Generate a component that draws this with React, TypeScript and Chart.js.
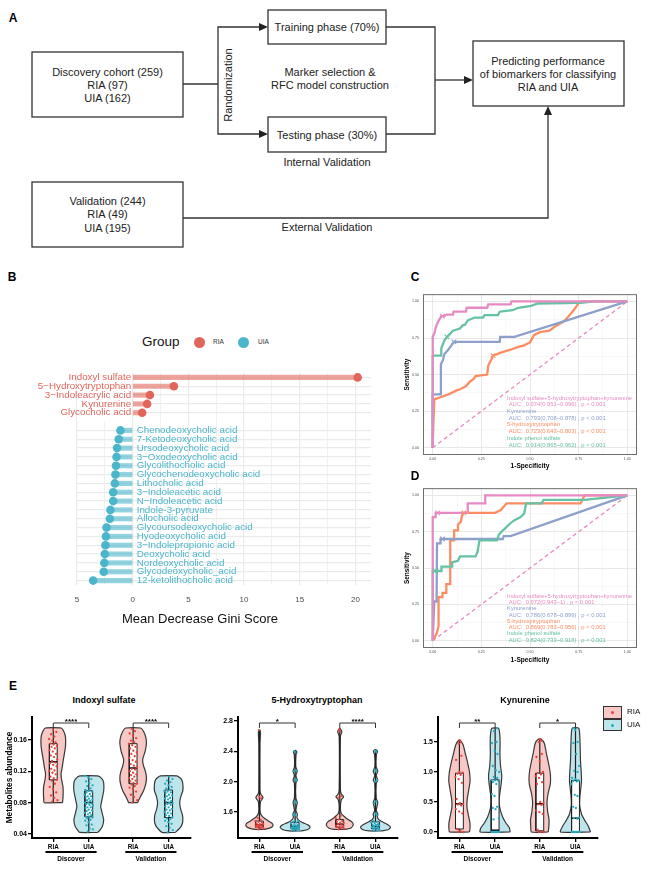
import React, { useEffect, useRef } from 'react';
import { Chart, registerables } from 'chart.js';

Chart.register(...registerables);

const FONT = "'Liberation Sans', Arial, Helvetica, sans-serif";
Chart.defaults.font.family = FONT;

// ================= Panel B: Mean Decrease Gini =================
const RIA_MARKERS = ['Indoxyl sulfate', '5\u2212Hydroxytryptophan', '3\u2212Indoleacrylic acid', 'Kynurenine', 'Glycocholic acid'];
const RIA_GINI = [20.2, 3.7, 1.55, 1.3, 0.85];
const UIA_MARKERS = [
  'Chenodeoxycholic acid', '7-Ketodeoxycholic acid', 'Ursodeoxycholic acid', '3\u2212Oxodeoxycholic acid',
  'Glycolithocholic acid', 'Glycochenodeoxycholic acid', 'Lithocholic acid', '3\u2212Indoleacetic acid',
  'N\u2212Indoleacetic acid', 'Indole-3-pyruvate', 'Allocholic acid', 'Glycoursodeoxycholic acid',
  'Hyodeoxycholic acid', '3\u2212Indolepropionic acid', 'Deoxycholic acid', 'Nordeoxycholic acid',
  'Glycodeoxycholic_acid', '12-ketolithocholic acid',
];
const UIA_GINI = [1.1, 1.25, 1.4, 1.45, 1.5, 1.55, 1.6, 1.75, 1.75, 2.0, 2.05, 2.35, 2.4, 2.45, 2.5, 2.55, 2.6, 3.55];
const GINI_TICKS = [-5, -2.5, 0, 2.5, 5, 7.5, 10, 12.5, 15, 17.5, 20];

// ================= Panels C / D: ROC =================
const ROC_TICKS = [0, 0.125, 0.25, 0.375, 0.5, 0.625, 0.75, 0.875, 1];
const ROC_NAMES = ['Indoxyl sulfate+5-hydroxytryptophan+kynurenine', 'Kynurenine', '5-hydroxytryptophan', 'Indole phenol sulfate'];

const C_COMBO = [[0, 0], [0, 0.76], [0.008, 0.78], [0.015, 0.82], [0.027, 0.86], [0.044, 0.9], [0.06, 0.9], [0.07, 0.91], [0.104, 0.91], [0.107, 0.93], [0.17, 0.93], [0.175, 0.957], [0.28, 0.957], [0.285, 0.98], [0.4, 0.98], [0.405, 1], [1, 1]];
const C_KYN = [[0, 0], [0, 0.365], [0.04, 0.365], [0.042, 0.57], [0.053, 0.6], [0.06, 0.64], [0.08, 0.67], [0.096, 0.7], [0.109, 0.724], [0.344, 0.724], [0.347, 0.758], [0.42, 0.758], [1, 1]];
const C_HTP = [[0, 0], [0.003, 0.15], [0.008, 0.33], [0.05, 0.35], [0.09, 0.37], [0.12, 0.39], [0.14, 0.4], [0.17, 0.42], [0.19, 0.45], [0.21, 0.47], [0.22, 0.49], [0.28, 0.5], [0.285, 0.56], [0.3, 0.6], [0.31, 0.63], [0.35, 0.65], [0.4, 0.67], [0.44, 0.69], [0.47, 0.7], [0.5, 0.72], [0.52, 0.77], [0.55, 0.79], [0.6, 0.8], [0.63, 0.83], [0.67, 0.86], [0.7, 0.9], [0.73, 0.95], [0.75, 0.99], [0.76, 1], [1, 1]];
const C_IPS = [[0, 0], [0, 0.63], [0.044, 0.63], [0.044, 0.68], [0.06, 0.735], [0.075, 0.76], [0.09, 0.78], [0.104, 0.8], [0.14, 0.815], [0.155, 0.838], [0.165, 0.84], [0.18, 0.87], [0.215, 0.89], [0.258, 0.89], [0.267, 0.906], [0.335, 0.906], [0.344, 0.93], [0.41, 0.94], [0.44, 0.957], [0.506, 0.97], [0.54, 0.986], [0.76, 0.99], [0.83, 1], [1, 1]];
const C_CUTS = [[0.05, 0.9], [0.109, 0.724], [0.31, 0.63], [0.073, 0.758]];
const C_AUC = [' AUC:  0.974(0.951~0.996) , p < 0.001', ' AUC:  0.793(0.708~0.878) , p < 0.001', ' AUC:  0.723(0.643~0.803) , p < 0.001', ' AUC:  0.914(0.865~0.962) , p < 0.001'];

const D_COMBO = [[0, 0], [0, 0.85], [0.015, 0.85], [0.015, 0.88], [0.18, 0.88], [0.18, 0.945], [0.27, 0.945], [0.27, 1], [1, 1]];
const D_KYN = [[0, 0], [0.008, 0.27], [0.02, 0.27], [0.022, 0.67], [0.04, 0.67], [0.04, 0.7], [0.36, 0.7], [0.365, 0.72], [0.4, 0.72], [1, 1]];
const D_HTP = [[0, 0], [0.02, 0.05], [0.03, 0.1], [0.03, 0.3], [0.05, 0.3], [0.05, 0.33], [0.07, 0.33], [0.07, 0.39], [0.09, 0.39], [0.09, 0.69], [0.11, 0.69], [0.11, 0.76], [0.13, 0.76], [0.13, 0.8], [0.145, 0.82], [0.15, 0.86], [0.16, 0.88], [0.32, 0.88], [0.35, 0.9], [0.37, 0.93], [0.38, 0.945], [0.76, 0.945], [0.78, 1], [1, 1]];
const D_IPS = [[0, 0], [0, 0.48], [0.045, 0.48], [0.045, 0.51], [0.1, 0.51], [0.1, 0.54], [0.13, 0.55], [0.14, 0.58], [0.22, 0.58], [0.23, 0.61], [0.24, 0.69], [0.33, 0.69], [0.34, 0.73], [0.36, 0.76], [0.37, 0.77], [0.4, 0.81], [0.42, 0.83], [0.45, 0.85], [0.47, 0.875], [0.48, 0.945], [0.56, 0.945], [0.57, 0.97], [0.78, 0.97], [1, 1]];
const D_CUTS = [[0.025, 0.88], [0.05, 0.7], [0.16, 0.88], [0.01, 0.48]];
const D_AUC = [' AUC:  0.972(0.943~1) , p < 0.001', ' AUC:  0.786(0.678~0.899) , p < 0.001', ' AUC:  0.869(0.783~0.956) , p < 0.001', ' AUC:  0.824(0.733~0.916) , p < 0.001'];

// ================= Panel E: violins =================
const E_GROUP_LABELS = ['RIA', 'UIA', 'RIA', 'UIA'];
const E_COHORTS = ['Discover', 'Validation'];

// Indoxyl sulfate
const IS_TICKS = [0.04, 0.08, 0.12, 0.16];
const IS_SIG = ['****', '****'];
const IS_RIA_D_SHAPE = [[0.08, 0.62], [0.084, 0.64], [0.09, 0.66], [0.1, 0.65], [0.11, 0.55], [0.117, 0.52], [0.125, 0.6], [0.134, 0.67], [0.143, 0.75], [0.152, 0.82], [0.163, 0.82], [0.17, 0.72], [0.175, 0.53]];
const IS_UIA_D_SHAPE = [[0.042, 0.6], [0.045, 0.75], [0.05, 0.92], [0.058, 1.0], [0.065, 0.92], [0.075, 0.8], [0.085, 0.9], [0.095, 1.0], [0.105, 1.0], [0.11, 0.9], [0.114, 0.6]];
const IS_RIA_V_SHAPE = [[0.08, 0.3], [0.082, 0.35], [0.088, 0.5], [0.095, 0.7], [0.104, 0.85], [0.112, 0.89], [0.12, 0.82], [0.128, 0.68], [0.135, 0.64], [0.145, 0.8], [0.155, 0.89], [0.162, 0.86], [0.17, 0.72], [0.175, 0.5]];
const IS_UIA_V_SHAPE = [[0.042, 0.45], [0.046, 0.68], [0.05, 0.85], [0.056, 0.95], [0.064, 0.93], [0.072, 0.8], [0.08, 0.74], [0.088, 0.82], [0.095, 0.95], [0.104, 0.95], [0.11, 0.85], [0.114, 0.55]];
const IS_RIA_D_BOX = [0.08, 0.109, 0.132, 0.155, 0.175];
const IS_UIA_D_BOX = [0.042, 0.062, 0.08, 0.095, 0.114];
const IS_RIA_V_BOX = [0.08, 0.104, 0.124, 0.155, 0.175];
const IS_UIA_V_BOX = [0.042, 0.061, 0.08, 0.096, 0.114];
const IS_RIA_D_PTS = [0.081, 0.083, 0.086, 0.089, 0.093, 0.097, 0.1, 0.104, 0.108, 0.109, 0.111, 0.113, 0.116, 0.118, 0.12, 0.121, 0.123, 0.126, 0.128, 0.13, 0.131, 0.133, 0.135, 0.138, 0.14, 0.142, 0.145, 0.147, 0.149, 0.151, 0.152, 0.154, 0.155, 0.157, 0.159, 0.161, 0.164, 0.167, 0.17, 0.173];
const IS_UIA_D_PTS = [0.043, 0.046, 0.047, 0.051, 0.052, 0.055, 0.057, 0.058, 0.06, 0.061, 0.062, 0.062, 0.064, 0.065, 0.067, 0.067, 0.069, 0.07, 0.071, 0.073, 0.074, 0.074, 0.076, 0.077, 0.078, 0.079, 0.08, 0.08, 0.082, 0.083, 0.084, 0.085, 0.087, 0.088, 0.088, 0.09, 0.091, 0.093, 0.094, 0.095, 0.096, 0.098, 0.101, 0.102, 0.105, 0.107, 0.11, 0.112, 0.114];
const IS_RIA_V_PTS = [0.08, 0.083, 0.087, 0.09, 0.094, 0.097, 0.099, 0.101, 0.103, 0.104, 0.105, 0.107, 0.108, 0.11, 0.111, 0.113, 0.115, 0.116, 0.118, 0.12, 0.122, 0.123, 0.125, 0.127, 0.129, 0.132, 0.134, 0.137, 0.139, 0.142, 0.144, 0.146, 0.149, 0.151, 0.153, 0.155, 0.157, 0.159, 0.162, 0.165, 0.168, 0.171, 0.174];
const IS_UIA_V_PTS = [0.042, 0.045, 0.048, 0.05, 0.053, 0.055, 0.057, 0.059, 0.06, 0.061, 0.063, 0.064, 0.066, 0.067, 0.068, 0.07, 0.071, 0.072, 0.074, 0.075, 0.077, 0.078, 0.079, 0.08, 0.081, 0.082, 0.084, 0.085, 0.086, 0.088, 0.089, 0.09, 0.092, 0.093, 0.094, 0.095, 0.096, 0.098, 0.1, 0.102, 0.104, 0.106, 0.108, 0.11, 0.113];

// 5-Hydroxytryptophan
const HTP_TICKS = [1.6, 2.0, 2.4, 2.8];
const HTP_SIG = ['*', '****'];
const HTP_RIA_D_SHAPE = [[1.37, 0.3], [1.39, 0.72], [1.42, 0.9], [1.45, 0.85], [1.48, 0.6], [1.51, 0.38], [1.54, 0.2], [1.58, 0.07], [1.65, 0.04], [1.74, 0.08], [1.79, 0.24], [1.84, 0.08], [1.9, 0.04], [2.5, 0.04], [2.64, 0.07], [2.68, 0.03]];
const HTP_UIA_D_SHAPE = [[1.35, 0.4], [1.37, 0.85], [1.4, 1.0], [1.43, 0.85], [1.46, 0.5], [1.49, 0.25], [1.53, 0.12], [1.57, 0.15], [1.62, 0.05], [1.73, 0.14], [1.78, 0.05], [1.98, 0.05], [2.02, 0.14], [2.08, 0.05], [2.14, 0.14], [2.2, 0.04], [2.36, 0.06], [2.39, 0.12], [2.41, 0.04]];
const HTP_RIA_V_SHAPE = [[1.37, 0.35], [1.39, 0.75], [1.43, 0.9], [1.47, 0.8], [1.5, 0.55], [1.54, 0.3], [1.58, 0.1], [1.65, 0.04], [1.76, 0.1], [1.8, 0.26], [1.84, 0.1], [1.9, 0.04], [2.6, 0.04], [2.66, 0.14], [2.7, 0.03]];
const HTP_UIA_V_SHAPE = [[1.35, 0.4], [1.37, 0.88], [1.4, 1.0], [1.43, 0.85], [1.47, 0.45], [1.5, 0.22], [1.54, 0.12], [1.57, 0.16], [1.62, 0.05], [1.73, 0.15], [1.78, 0.05], [1.98, 0.05], [2.02, 0.15], [2.08, 0.05], [2.14, 0.15], [2.2, 0.04], [2.36, 0.06], [2.4, 0.14], [2.42, 0.04]];
const HTP_RIA_D_BOX = [1.37, 1.4, 1.43, 1.48, 2.68];
const HTP_UIA_D_BOX = [1.35, 1.38, 1.41, 1.46, 2.4];
const HTP_RIA_V_BOX = [1.37, 1.4, 1.44, 1.5, 2.69];
const HTP_UIA_V_BOX = [1.35, 1.38, 1.41, 1.47, 2.41];
const HTP_RIA_D_PTS = [1.37, 1.38, 1.39, 1.4, 1.4, 1.41, 1.42, 1.42, 1.43, 1.44, 1.44, 1.45, 1.46, 1.47, 1.48, 1.5, 1.52, 1.78, 1.8, 2.68];
const HTP_UIA_D_PTS = [1.35, 1.36, 1.37, 1.37, 1.38, 1.39, 1.39, 1.4, 1.4, 1.41, 1.42, 1.42, 1.43, 1.44, 1.45, 1.46, 1.47, 1.48, 1.56, 1.57, 1.73, 1.74, 2.01, 2.03, 2.14, 2.15, 2.39, 2.4];
const HTP_RIA_V_PTS = [1.37, 1.38, 1.39, 1.4, 1.41, 1.41, 1.42, 1.43, 1.44, 1.45, 1.46, 1.47, 1.48, 1.5, 1.52, 1.55, 1.79, 1.81, 2.67, 2.69];
const HTP_UIA_V_PTS = [1.35, 1.36, 1.37, 1.38, 1.38, 1.39, 1.4, 1.4, 1.41, 1.42, 1.43, 1.43, 1.44, 1.45, 1.46, 1.47, 1.48, 1.56, 1.58, 1.72, 1.74, 2.0, 2.02, 2.14, 2.16, 2.39, 2.41];

// Kynurenine
const KYN_TICKS = [0, 0.5, 1.0, 1.5];
const KYN_SIG = ['**', '*'];
const KYN_RIA_D_SHAPE = [[0, 0.66], [0.05, 0.7], [0.15, 0.7], [0.3, 0.58], [0.42, 0.5], [0.55, 0.52], [0.7, 0.62], [0.85, 0.71], [1.0, 0.67], [1.15, 0.55], [1.3, 0.4], [1.45, 0.25], [1.53, 0.05]];
const KYN_UIA_D_SHAPE = [[0, 1.0], [0.07, 0.95], [0.15, 0.72], [0.25, 0.5], [0.38, 0.33], [0.5, 0.26], [0.62, 0.3], [0.8, 0.4], [0.95, 0.44], [1.1, 0.36], [1.3, 0.32], [1.5, 0.33], [1.65, 0.3], [1.73, 0.22]];
const KYN_RIA_V_SHAPE = [[0, 0.56], [0.08, 0.6], [0.2, 0.62], [0.35, 0.52], [0.5, 0.48], [0.65, 0.56], [0.8, 0.7], [0.95, 0.71], [1.1, 0.62], [1.3, 0.45], [1.48, 0.3], [1.55, 0.08]];
const KYN_UIA_V_SHAPE = [[0, 1.0], [0.1, 0.85], [0.2, 0.6], [0.3, 0.4], [0.45, 0.28], [0.6, 0.3], [0.85, 0.4], [1.0, 0.38], [1.2, 0.33], [1.5, 0.3], [1.73, 0.22]];
const KYN_RIA_D_BOX = [0, 0.05, 0.47, 0.98, 1.53];
const KYN_UIA_D_BOX = [0, 0, 0.03, 0.87, 1.73];
const KYN_RIA_V_BOX = [0, 0.02, 0.47, 0.98, 1.55];
const KYN_UIA_V_BOX = [0, 0, 0.23, 0.86, 1.73];
const KYN_RIA_D_PTS = [0, 0, 0.02, 0.05, 0.31, 0.34, 0.38, 0.44, 0.46, 0.47, 0.48, 0.55, 0.82, 0.88, 0.92, 0.95, 0.97, 0.99, 1.0, 1.2, 1.27, 1.47, 1.5, 1.53];
const KYN_UIA_D_PTS = [0, 0, 0, 0, 0, 0, 0, 0, 0.21, 0.23, 0.38, 0.4, 0.42, 0.6, 0.63, 0.8, 0.83, 0.85, 0.86, 0.87, 0.9, 0.92, 1.0, 1.03, 1.1, 1.3, 1.35, 1.48, 1.5, 1.68, 1.73];
const KYN_RIA_V_PTS = [0, 0, 0, 0.04, 0.3, 0.33, 0.36, 0.45, 0.46, 0.48, 0.5, 0.8, 0.83, 0.9, 0.93, 0.96, 0.98, 1.0, 1.18, 1.25, 1.3, 1.5, 1.52, 1.55];
const KYN_UIA_V_PTS = [0, 0, 0, 0, 0, 0, 0, 0.22, 0.23, 0.24, 0.4, 0.42, 0.6, 0.62, 0.8, 0.84, 0.85, 0.86, 0.88, 0.9, 1.0, 1.02, 1.1, 1.3, 1.48, 1.5, 1.7, 1.73];

// ================= styles =================
const B_RED = '#E0665B';
const B_RED_SEG = 'rgba(226,110,98,0.62)';
const B_TEAL = '#4BB6CB';
const B_TEAL_SEG = 'rgba(75,182,203,0.6)';
const SET2 = ['#E78AC3', '#8DA0CB', '#FC8D62', '#66C2A5'];
const RIA_FILL = '#F7C8C4';
const UIA_FILL = '#BEE5EB';
const RIA_DOT = '#E8423B';
const UIA_DOT = '#22AAC2';
const GROUP_POS = [1, 2, 3.25, 4.25];
const VIOLIN_HW = 0.42;
const BOX_HW = 0.11;

// ================= chart builders =================
function lollipopConfig(): any {
  const labels = [...RIA_MARKERS, '', ...UIA_MARKERS];
  const nR = RIA_MARKERS.length;
  const values = [...RIA_GINI, null, ...UIA_GINI.map((v) => -v)];
  const dotColors = labels.map((_, i) => (i < nR ? B_RED : B_TEAL));
  const segColors = labels.map((_, i) => (i < nR ? B_RED_SEG : B_TEAL_SEG));
  const plugin = {
    id: 'lollipopLabels',
    beforeDatasetsDraw(chart: any) {
      const { ctx, chartArea, scales } = chart;
      const x0 = scales.x.getPixelForValue(0);
      const yGap = scales.y.getPixelForValue(nR);
      ctx.save();
      ctx.fillStyle = '#fff';
      ctx.fillRect(chartArea.left, chartArea.top, x0 - 0.6 - chartArea.left, yGap - chartArea.top);
      ctx.restore();
    },
    afterDatasetsDraw(chart: any) {
      const { ctx, scales } = chart;
      const x0 = scales.x.getPixelForValue(0);
      ctx.save();
      ctx.font = `9.8px ${FONT}`;
      ctx.textBaseline = 'middle';
      labels.forEach((name, i) => {
        if (!name) return;
        const y = scales.y.getPixelForValue(i);
        if (i < nR) {
          ctx.textAlign = 'right';
          ctx.fillStyle = B_RED;
          ctx.fillText(name, x0 - 1.5, y);
        } else {
          ctx.textAlign = 'left';
          ctx.fillStyle = B_TEAL;
          ctx.fillText(name, x0 + 4, y);
        }
      });
      ctx.restore();
    },
  };
  return {
    type: 'bar',
    data: {
      labels,
      datasets: [
        { type: 'line', indexAxis: 'y', data: values, showLine: false, pointRadius: 4.3, pointBackgroundColor: dotColors, pointBorderWidth: 0, order: 0 },
        { type: 'bar', data: values.map((v) => (v == null ? null : [0, v])), backgroundColor: segColors, barThickness: 4.5, order: 1 },
      ],
    },
    options: {
      indexAxis: 'y',
      responsive: false,
      animation: false,
      events: [],
      layout: { padding: { top: 13, right: 9, left: 0, bottom: 0 } },
      plugins: { legend: { display: false }, tooltip: { enabled: false } },
      scales: {
        x: {
          type: 'linear', min: -5, max: 21.4,
          afterBuildTicks: (s: any) => { s.ticks = GINI_TICKS.map((v) => ({ value: v })); },
          ticks: { callback: (v: any) => (Number(v) % 5 === 0 ? String(Math.abs(Number(v))) : ''), font: { size: 8 }, color: '#4D4D4D', padding: 9.6, autoSkip: false, maxRotation: 0 },
          grid: { color: '#EBEBEB', lineWidth: (c: any) => (c.tick && c.tick.value % 5 === 0 ? 1.2 : 0.7), drawTicks: false },
          border: { display: false },
          afterFit: (s: any) => { s.height = 47; },
        },
        y: {
          type: 'category', offset: true,
          ticks: { display: false },
          grid: { offset: false, color: (c: any) => (labels[c.index] === '' ? 'rgba(0,0,0,0)' : '#EBEBEB'), lineWidth: 1.2, drawTicks: false },
          border: { display: false },
          afterFit: (s: any) => { s.width = 77; },
        },
      },
    },
    plugins: [plugin],
  };
}

function rocConfig(curves: number[][][], cuts: number[][], auc: string[], textTop: number, textBottom: number, xAxisH: number): any {
  const drawOrder = [1, 3, 4, 2];
  const datasets: any[] = [
    { data: [{ x: 0, y: 0 }, { x: 1, y: 1 }], borderColor: SET2[0], borderWidth: 1.3, borderDash: [4, 3], pointRadius: 0, order: 9 },
  ];
  curves.forEach((pts, i) =>
    datasets.push({ data: pts.map(([x, y]) => ({ x, y })), borderColor: SET2[i], borderWidth: 2.3, pointRadius: 0, tension: 0, order: drawOrder[i] })
  );
  cuts.forEach(([x, y], i) =>
    datasets.push({ data: [{ x, y }], showLine: false, pointStyle: 'crossRot', pointRadius: 3.2, pointBorderColor: SET2[i], pointBorderWidth: 1.1, borderColor: SET2[i], order: 0 })
  );
  const lines: string[] = [];
  const lineColors: string[] = [];
  ROC_NAMES.forEach((n, i) => { lines.push(n, auc[i]); lineColors.push(SET2[i], SET2[i]); });
  const plugin = {
    id: 'rocDecor',
    afterDraw(chart: any) {
      const { ctx, chartArea: ca, scales } = chart;
      ctx.save();
      ctx.strokeStyle = '#6e6e6e';
      ctx.lineWidth = 1;
      ctx.strokeRect(ca.left + 0.5, ca.top + 0.5, ca.right - ca.left - 1, ca.bottom - ca.top - 1);
      const x0 = scales.x.getPixelForValue(0.382);
      const yT = scales.y.getPixelForValue(textTop);
      const yB = scales.y.getPixelForValue(textBottom);
      const step = (yB - yT) / (lines.length - 1);
      ctx.font = `5.8px ${FONT}`;
      ctx.textBaseline = 'middle';
      ctx.textAlign = 'left';
      lines.forEach((t, i) => { ctx.fillStyle = lineColors[i]; ctx.fillText(t, x0, yT + i * step); });
      ctx.restore();
    },
  };
  const grid = {
    color: (c: any) => (c.tick && c.tick.value % 0.25 === 0 ? '#E2E2E2' : '#F0F0F0'),
    lineWidth: (c: any) => (c.tick && c.tick.value % 0.25 === 0 ? 0.8 : 0.5),
    drawTicks: false,
  };
  const tickCb = (v: any) => (Number(v) % 0.25 === 0 ? Number(v).toFixed(2) : '');
  return {
    type: 'line',
    data: { datasets },
    options: {
      responsive: false, animation: false, events: [],
      layout: { padding: { top: 6, right: 8, left: 0, bottom: 0 } },
      plugins: { legend: { display: false }, tooltip: { enabled: false } },
      scales: {
        x: {
          type: 'linear', min: -0.05, max: 1.05,
          afterBuildTicks: (s: any) => { s.ticks = ROC_TICKS.map((v) => ({ value: v })); },
          ticks: { callback: tickCb, font: { size: 3.6 }, color: '#4D4D4D', padding: 1.6, autoSkip: false, maxRotation: 0 },
          grid, border: { display: false },
          title: { display: true, text: '1-Specificity', color: '#000', font: { size: 6.6, weight: 'bold' }, padding: { top: 0, bottom: 3 } },
          afterFit: (s: any) => { s.height = xAxisH; },
        },
        y: {
          type: 'linear', min: -0.05, max: 1.05,
          afterBuildTicks: (s: any) => { s.ticks = ROC_TICKS.map((v) => ({ value: v })); },
          ticks: { callback: tickCb, font: { size: 3.6 }, color: '#4D4D4D', padding: 4, autoSkip: false },
          grid, border: { display: false },
          title: { display: true, text: 'Sensitivity', color: '#000', font: { size: 6.4, weight: 'bold' }, padding: { top: 8.4, bottom: 0 } },
          afterFit: (s: any) => { s.width = 28; },
        },
      },
    },
    plugins: [plugin],
  };
}

function hwAt(shape: number[][], v: number): number {
  const s = [...shape].sort((a, b) => a[0] - b[0]);
  if (v <= s[0][0]) return s[0][1];
  for (let i = 1; i < s.length; i++) {
    if (v <= s[i][0]) {
      const t = (v - s[i - 1][0]) / (s[i][0] - s[i - 1][0] || 1);
      return s[i - 1][1] + t * (s[i][1] - s[i - 1][1]);
    }
  }
  return s[s.length - 1][1];
}

type Group = { shape: number[][]; box: number[]; pts: number[] };

function violinConfig(groups: Group[], yMin: number, yMax: number, ticks: number[], digits: number, sig: string[], yAxisW: number, rightPad: number, yTitle?: string): any {
  const datasets: any[] = [];
  groups.forEach((g, gi) => {
    const pos = GROUP_POS[gi];
    const ria = gi % 2 === 0;
    const shape = [...g.shape].sort((a, b) => a[0] - b[0]);
    const right = shape.map(([v, d]) => ({ x: pos + d * VIOLIN_HW, y: v }));
    const left = shape.slice().reverse().map(([v, d]) => ({ x: pos - d * VIOLIN_HW, y: v }));
    datasets.push({ data: [...right, ...left, right[0]], fill: 'shape', backgroundColor: ria ? RIA_FILL : UIA_FILL, borderColor: '#383838', borderWidth: 1.2, pointRadius: 0, tension: 0.2, order: 6 });
    const [mn, q1, md, q3, mx] = g.box;
    datasets.push({ data: [{ x: pos, y: mn }, { x: pos, y: q1 }], borderColor: '#222', borderWidth: 1.2, pointRadius: 0, order: 5 });
    datasets.push({ data: [{ x: pos, y: q3 }, { x: pos, y: mx }], borderColor: '#222', borderWidth: 1.2, pointRadius: 0, order: 5 });
    datasets.push({
      data: [{ x: pos - BOX_HW, y: q1 }, { x: pos + BOX_HW, y: q1 }, { x: pos + BOX_HW, y: q3 }, { x: pos - BOX_HW, y: q3 }, { x: pos - BOX_HW, y: q1 }],
      fill: 'shape', backgroundColor: '#ffffff', borderColor: '#222', borderWidth: 1, pointRadius: 0, tension: 0, order: 4,
    });
    datasets.push({ data: [{ x: pos - BOX_HW, y: md }, { x: pos + BOX_HW, y: md }], borderColor: '#111', borderWidth: 1.6, pointRadius: 0, order: 3 });
    datasets.push({
      data: g.pts.map((v, i) => {
        const j = ((i * 0.6180339 + 0.37) % 1) - 0.5;
        const amp = Math.min(0.12, 0.75 * hwAt(shape, v) * VIOLIN_HW);
        return { x: pos + 2 * j * amp, y: v };
      }),
      showLine: false, pointRadius: 1.15, pointBackgroundColor: ria ? RIA_DOT : UIA_DOT, pointBorderWidth: 0, order: 1,
    });
  });
  const plugin = {
    id: 'violinDecor',
    afterDraw(chart: any) {
      const { ctx, chartArea, scales } = chart;
      const x = scales.x;
      ctx.save();
      sig.forEach((label, k) => {
        const a = x.getPixelForValue(GROUP_POS[2 * k]);
        const b = x.getPixelForValue(GROUP_POS[2 * k + 1]);
        const yb = chartArea.top + 6;
        ctx.strokeStyle = '#333';
        ctx.lineWidth = 1;
        ctx.beginPath();
        ctx.moveTo(a, yb + 5);
        ctx.lineTo(a, yb);
        ctx.lineTo(b, yb);
        ctx.lineTo(b, yb + 5);
        ctx.stroke();
        ctx.fillStyle = '#000';
        ctx.font = `bold 8px ${FONT}`;
        ctx.textAlign = 'center';
        ctx.textBaseline = 'alphabetic';
        ctx.fillText(label, (a + b) / 2, yb + 0.5);
      });
      E_COHORTS.forEach((name, k) => {
        const a = x.getPixelForValue(GROUP_POS[2 * k] - 0.22);
        const b = x.getPixelForValue(GROUP_POS[2 * k + 1] + 0.22);
        const yl = chartArea.bottom + 14;
        ctx.strokeStyle = '#000';
        ctx.lineWidth = 2;
        ctx.beginPath();
        ctx.moveTo(a, yl);
        ctx.lineTo(b, yl);
        ctx.stroke();
        ctx.fillStyle = '#000';
        ctx.font = `bold 6.5px ${FONT}`;
        ctx.textAlign = 'center';
        ctx.textBaseline = 'middle';
        ctx.fillText(name, (a + b) / 2, yl + 7);
      });
      ctx.restore();
    },
  };
  const axisGrid = { drawOnChartArea: false, drawTicks: true, tickLength: 4, color: '#000', tickColor: '#000', lineWidth: 1.3, tickWidth: 1.3 };
  return {
    type: 'line',
    data: { datasets },
    options: {
      responsive: false, animation: false, events: [],
      layout: { padding: { top: 12, right: rightPad, left: 0, bottom: 0 } },
      plugins: { legend: { display: false }, tooltip: { enabled: false } },
      scales: {
        x: {
          type: 'linear', min: 0.4, max: 4.88,
          afterBuildTicks: (s: any) => { s.ticks = GROUP_POS.map((v) => ({ value: v })); },
          ticks: { callback: (_v: any, i: number) => E_GROUP_LABELS[i], font: { size: 6.3, weight: 'bold' }, color: '#000', padding: 1.2, autoSkip: false, maxRotation: 0 },
          grid: axisGrid,
          border: { display: true, color: '#000', width: 2 },
          afterFit: (s: any) => { s.height = 31; },
        },
        y: {
          type: 'linear', min: yMin, max: yMax,
          afterBuildTicks: (s: any) => { s.ticks = ticks.map((v) => ({ value: v })); },
          ticks: { callback: (v: any) => Number(v).toFixed(digits), font: { size: 7, weight: 'bold' }, color: '#000', padding: 1, autoSkip: false },
          grid: axisGrid,
          border: { display: true, color: '#000', width: 2 },
          title: yTitle
            ? { display: true, text: yTitle, color: '#000', font: { size: 8.3, weight: 'bold' }, padding: { top: 5, bottom: 0 } }
            : { display: false },
          afterFit: (s: any) => { s.width = yAxisW; },
        },
      },
    },
    plugins: [plugin],
  };
}

// ================= components =================
function ChartCanvas({ x, y, w, h, build }: { x: number; y: number; w: number; h: number; build: () => any }) {
  const ref = useRef<HTMLCanvasElement | null>(null);
  useEffect(() => {
    const chart = new Chart(ref.current as HTMLCanvasElement, build());
    return () => chart.destroy();
  }, []);
  return <canvas ref={ref} width={w} height={h} style={{ position: 'absolute', left: x, top: y, width: w, height: h }} />;
}

function Txt({ x, y, children, size = 11, bold = false, color = '#000', align = 'center' }: any) {
  const tx = align === 'center' ? '-50%' : align === 'right' ? '-100%' : '0';
  return (
    <div style={{ position: 'absolute', left: x, top: y, transform: `translate(${tx}, -50%)`, fontSize: size, fontWeight: bold ? 'bold' : 'normal', color, whiteSpace: 'nowrap', lineHeight: 1, fontFamily: FONT }}>
      {children}
    </div>
  );
}

function FlowChart() {
  const st = { stroke: '#333', strokeWidth: 1.3, fill: 'none' } as any;
  const tx = { fontFamily: FONT, fontSize: 11, fill: '#222', textAnchor: 'middle', dominantBaseline: 'central' } as any;
  return (
    <svg width={653} height={260} style={{ position: 'absolute', left: 0, top: 0 }}>
      <rect x={32} y={52} width={151} height={65} {...st} />
      <text x={107.5} y={72} {...tx}>Discovery cohort (259)</text>
      <text x={107.5} y={85} {...tx}>RIA (97)</text>
      <text x={107.5} y={98} {...tx}>UIA (162)</text>
      <rect x={32} y={182} width={151} height={65} {...st} />
      <text x={107.5} y={201} {...tx}>Validation (244)</text>
      <text x={107.5} y={214} {...tx}>RIA (49)</text>
      <text x={107.5} y={228} {...tx}>UIA (195)</text>
      <polyline points="183,84 218,84" {...st} />
      <polyline points="260,27 218,27 218,134 260,134" {...st} />
      <polygon points="259,23 268,27 259,31" fill="#222" />
      <polygon points="259,130 268,134 259,138" fill="#222" />
      <text transform="translate(228,85) rotate(-90)" {...tx}>Randomization</text>
      <rect x={268} y={10} width={118} height={34} {...st} />
      <text x={327} y={27} {...tx}>Training phase (70%)</text>
      <rect x={268} y={117} width={118} height={35} {...st} />
      <text x={327} y={134.5} {...tx}>Testing phase (30%)</text>
      <text x={330} y={72} {...tx}>Marker selection &amp;</text>
      <text x={330} y={85} {...tx}>RFC model construction</text>
      <text x={327} y={162} {...tx}>Internal Validation</text>
      <polyline points="386,27 435,27 435,134 386,134" {...st} />
      <polyline points="435,80 465,80" {...st} />
      <polygon points="464,76 473,80 464,84" fill="#222" />
      <rect x={473} y={41} width={151} height={65} {...st} />
      <text x={548} y={61} {...tx}>Predicting performance</text>
      <text x={548} y={74} {...tx}>of biomarkers for classifying</text>
      <text x={548} y={87} {...tx}>RIA and UIA</text>
      <polyline points="183,218 548,218 548,114" {...st} />
      <polygon points="544,115 548,106 552,115" fill="#222" />
      <text x={327} y={227} {...tx}>External Validation</text>
    </svg>
  );
}

export default function App() {
  const isGroups: Group[] = [
    { shape: IS_RIA_D_SHAPE, box: IS_RIA_D_BOX, pts: IS_RIA_D_PTS },
    { shape: IS_UIA_D_SHAPE, box: IS_UIA_D_BOX, pts: IS_UIA_D_PTS },
    { shape: IS_RIA_V_SHAPE, box: IS_RIA_V_BOX, pts: IS_RIA_V_PTS },
    { shape: IS_UIA_V_SHAPE, box: IS_UIA_V_BOX, pts: IS_UIA_V_PTS },
  ];
  const htpGroups: Group[] = [
    { shape: HTP_RIA_D_SHAPE, box: HTP_RIA_D_BOX, pts: HTP_RIA_D_PTS },
    { shape: HTP_UIA_D_SHAPE, box: HTP_UIA_D_BOX, pts: HTP_UIA_D_PTS },
    { shape: HTP_RIA_V_SHAPE, box: HTP_RIA_V_BOX, pts: HTP_RIA_V_PTS },
    { shape: HTP_UIA_V_SHAPE, box: HTP_UIA_V_BOX, pts: HTP_UIA_V_PTS },
  ];
  const kynGroups: Group[] = [
    { shape: KYN_RIA_D_SHAPE, box: KYN_RIA_D_BOX, pts: KYN_RIA_D_PTS },
    { shape: KYN_UIA_D_SHAPE, box: KYN_UIA_D_BOX, pts: KYN_UIA_D_PTS },
    { shape: KYN_RIA_V_SHAPE, box: KYN_RIA_V_BOX, pts: KYN_RIA_V_PTS },
    { shape: KYN_UIA_V_SHAPE, box: KYN_UIA_V_BOX, pts: KYN_UIA_V_PTS },
  ];
  return (
    <div style={{ position: 'absolute', left: 0, top: 0, width: 653, height: 869, background: '#fff', overflow: 'hidden', fontFamily: FONT }}>
      <Txt x={13} y={18} size={12} bold>A</Txt>
      <FlowChart />

      <Txt x={12} y={277} size={12} bold>B</Txt>
      <Txt x={142} y={342} size={13.5} align="left" color="#111">Group</Txt>
      <div style={{ position: 'absolute', left: 193.5, top: 336.5, width: 11, height: 11, borderRadius: '50%', background: B_RED }} />
      <Txt x={213} y={342} size={6.5} align="left" color="#333">RIA</Txt>
      <div style={{ position: 'absolute', left: 237.5, top: 336.5, width: 11, height: 11, borderRadius: '50%', background: B_TEAL }} />
      <Txt x={258} y={342} size={6.5} align="left" color="#333">UIA</Txt>
      <ChartCanvas x={0} y={360} w={380} h={272} build={lollipopConfig} />
      <Txt x={200} y={618} size={13} color="#111">Mean Decrease Gini Score</Txt>

      <Txt x={415} y={277} size={12} bold>C</Txt>
      <ChartCanvas x={395} y={288} w={250} h={185} build={() => rocConfig([C_COMBO, C_KYN, C_HTP, C_IPS], C_CUTS, C_AUC, 0.34, 0.018, 18)} />
      <Txt x={415} y={476} size={12} bold>D</Txt>
      <ChartCanvas x={395} y={482} w={250} h={185} build={() => rocConfig([D_COMBO, D_KYN, D_HTP, D_IPS], D_CUTS, D_AUC, 0.307, 0.005, 19)} />

      <Txt x={13} y={686} size={12} bold>E</Txt>
      <Txt x={104} y={700} size={9} bold>Indoxyl sulfate</Txt>
      <Txt x={317} y={700} size={9} bold>5-Hydroxytryptophan</Txt>
      <Txt x={525} y={700} size={9} bold>Kynurenine</Txt>
      <ChartCanvas x={0} y={705} w={200} h={164} build={() => violinConfig(isGroups, 0.0349, 0.189, IS_TICKS, 2, IS_SIG, 32, 9, 'Metabolites abundance')} />
      <ChartCanvas x={205} y={705} w={200} h={164} build={() => violinConfig(htpGroups, 1.257, 2.853, HTP_TICKS, 1, HTP_SIG, 33, 7)} />
      <ChartCanvas x={405} y={705} w={200} h={164} build={() => violinConfig(kynGroups, -0.1, 1.917, KYN_TICKS, 1, KYN_SIG, 33, 7)} />

      <div style={{ position: 'absolute', left: 603, top: 706, width: 19, height: 12.5, background: RIA_FILL, border: '1.3px solid #333', boxSizing: 'border-box' }}>
        <div style={{ position: 'absolute', left: 7, top: 4, width: 3, height: 3, borderRadius: '50%', background: RIA_DOT }} />
      </div>
      <div style={{ position: 'absolute', left: 603, top: 718.5, width: 19, height: 12.5, background: UIA_FILL, border: '1.3px solid #333', boxSizing: 'border-box' }}>
        <div style={{ position: 'absolute', left: 7, top: 4, width: 3, height: 3, borderRadius: '50%', background: UIA_DOT }} />
      </div>
      <Txt x={627} y={712} size={8} align="left" color="#111">RIA</Txt>
      <Txt x={627} y={725} size={8} align="left" color="#111">UIA</Txt>
    </div>
  );
}
